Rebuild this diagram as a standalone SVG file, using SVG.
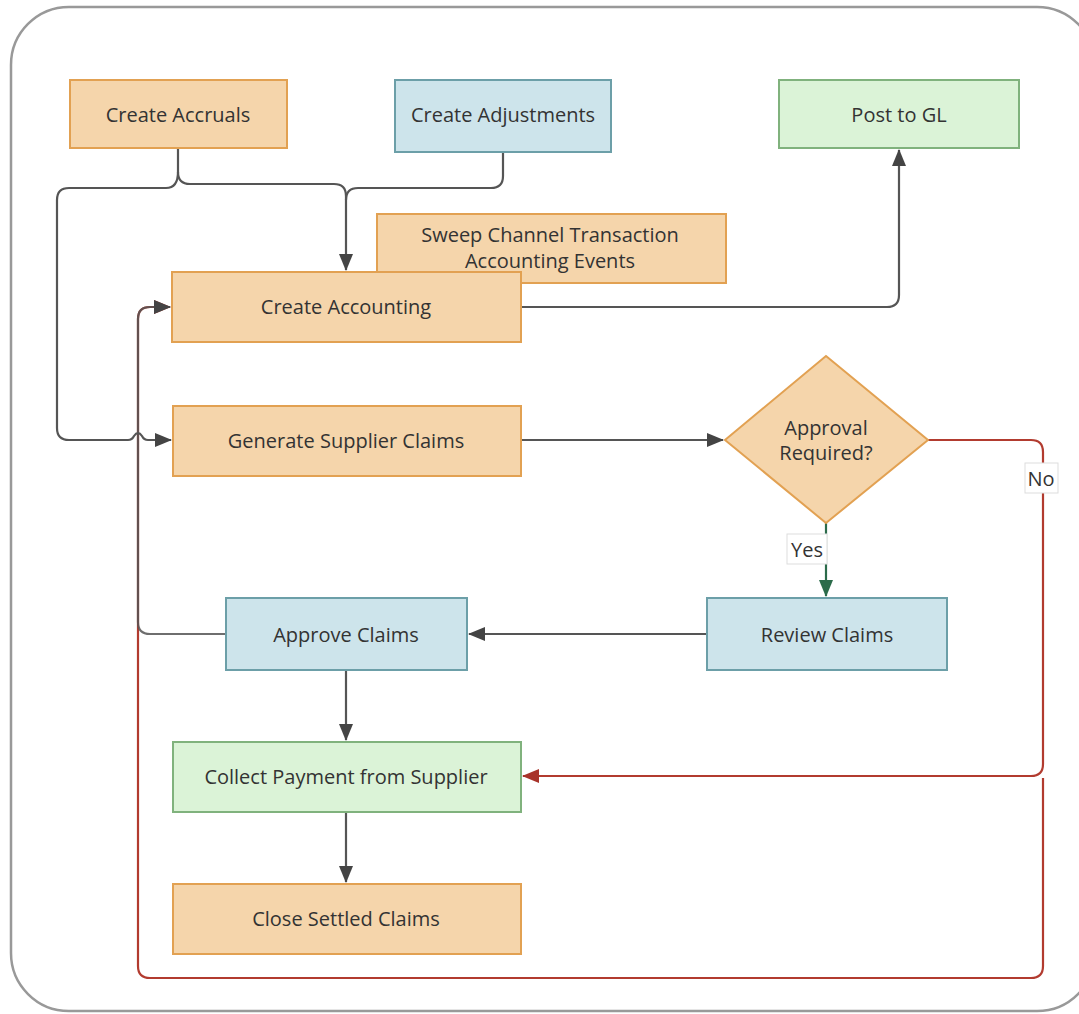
<svg xmlns="http://www.w3.org/2000/svg" width="1079" height="1014" viewBox="0 0 1079 1014">
<style>
  .lbl{font-family:"Open Sans","Liberation Sans",sans-serif;font-size:20px;fill:#333;text-anchor:middle;dominant-baseline:central}
  .org{fill:#f5d5ab;stroke:#e2a152;stroke-width:2}
  .blu{fill:#cde4eb;stroke:#6c9fa8;stroke-width:2}
  .grn{fill:#dbf3d7;stroke:#80b27d;stroke-width:2}
  .cg{fill:none;stroke:#555;stroke-width:2.2}
  .cr{fill:none;stroke:#b23b2f;stroke-width:2.2}
  .cy{fill:none;stroke:#2b6b4a;stroke-width:2.2}
  .tag{fill:#fff;stroke:#ddd;stroke-width:1}
</style>
<defs>
  <marker id="ag" markerUnits="userSpaceOnUse" markerWidth="17" markerHeight="14" refX="16" refY="7" orient="auto"><path d="M0,0 L17,7 L0,14 z" fill="#444"/></marker>
  <marker id="ar" markerUnits="userSpaceOnUse" markerWidth="17" markerHeight="14" refX="16" refY="7" orient="auto"><path d="M0,0 L17,7 L0,14 z" fill="#a8332a"/></marker>
  <marker id="ay" markerUnits="userSpaceOnUse" markerWidth="17" markerHeight="14" refX="16" refY="7" orient="auto"><path d="M0,0 L17,7 L0,14 z" fill="#2b6b4a"/></marker>
</defs>
<rect x="0" y="0" width="1079" height="1014" fill="#fff"/>
<rect x="11" y="7" width="1084" height="1004" rx="58" fill="#fff" stroke="#999" stroke-width="2.5"/>

<g id="connectors">
  <path class="cr" d="M928,440 L1031,440 Q1043,440 1043,452 L1043,764 Q1043,776 1031,776 L523,776" marker-end="url(#ar)"/>
  <path class="cr" d="M1043,778 L1043,966 Q1043,978 1031,978 L150,978 Q138,978 138,966 L138,319 Q138,307 150,307 L170,307" marker-end="url(#ar)"/>
  <path class="cg" stroke-opacity="0.85" d="M226,634 L150,634 Q138,634 138,622 L138,319 Q138,307 150,307 L170,307" marker-end="url(#ag)"/>
  <path class="cg" d="M178,148 L178,172 Q178,184 190,184 L334,184 Q346,184 346,196 L346,270" marker-end="url(#ag)"/>
  <path class="cg" d="M503,152 L503,176 Q503,188 491,188 L358,188 Q346,188 346,200"/>
  <path class="cg" d="M178,172 Q178,188 166,188 L69,188 Q57,188 57,200 L57,428 Q57,440 69,440 L128,440 Q132,440 134,436 Q138,430 142,436 Q144,440 148,440 L171,440" marker-end="url(#ag)"/>
  <path class="cg" d="M521,307 L887,307 Q899,307 899,295 L899,150" marker-end="url(#ag)"/>
  <path class="cg" d="M521,440 L723,440" marker-end="url(#ag)"/>
  <path class="cy" d="M826,523 L826,596" marker-end="url(#ay)"/>
  <path class="cg" d="M707,634 L469,634" marker-end="url(#ag)"/>
  <path class="cg" d="M346,670 L346,740" marker-end="url(#ag)"/>
  <path class="cg" d="M346,812 L346,882" marker-end="url(#ag)"/>
  <rect class="tag" x="787" y="534" width="40" height="30"/>
  <text class="lbl" x="807" y="549">Yes</text>
  <rect class="tag" x="1025" y="463" width="33" height="30"/>
  <text class="lbl" x="1041" y="478">No</text>
</g>

<g id="create-accruals"><rect class="org" x="70" y="80" width="217" height="68"/><text class="lbl" x="178" y="114">Create Accruals</text></g>
<g id="create-adjustments"><rect class="blu" x="395" y="80" width="216" height="72"/><text class="lbl" x="503" y="114">Create Adjustments</text></g>
<g id="post-to-gl"><rect class="grn" x="779" y="80" width="240" height="68"/><text class="lbl" x="899" y="114">Post to GL</text></g>
<g id="sweep"><rect class="org" x="377" y="214" width="349" height="69"/><text class="lbl" x="550" y="234">Sweep Channel Transaction</text><text class="lbl" x="550" y="260">Accounting Events</text></g>
<g id="create-accounting"><rect class="org" x="172" y="272" width="349" height="70"/><text class="lbl" x="346" y="306">Create Accounting</text></g>
<g id="generate-claims"><rect class="org" x="173" y="406" width="348" height="70"/><text class="lbl" x="346" y="440">Generate Supplier Claims</text></g>
<g id="approval-required"><path class="org" d="M826,356 L928,440 L826,523 L725,440 z"/><text class="lbl" x="826" y="427">Approval</text><text class="lbl" x="826" y="452">Required?</text></g>
<g id="review-claims"><rect class="blu" x="707" y="598" width="240" height="72"/><text class="lbl" x="827" y="634">Review Claims</text></g>
<g id="approve-claims"><rect class="blu" x="226" y="598" width="241" height="72"/><text class="lbl" x="346" y="634">Approve Claims</text></g>
<g id="collect-payment"><rect class="grn" x="173" y="742" width="348" height="70"/><text class="lbl" x="346" y="776">Collect Payment from Supplier</text></g>
<g id="close-claims"><rect class="org" x="173" y="884" width="348" height="70"/><text class="lbl" x="346" y="918">Close Settled Claims</text></g>
</svg>
